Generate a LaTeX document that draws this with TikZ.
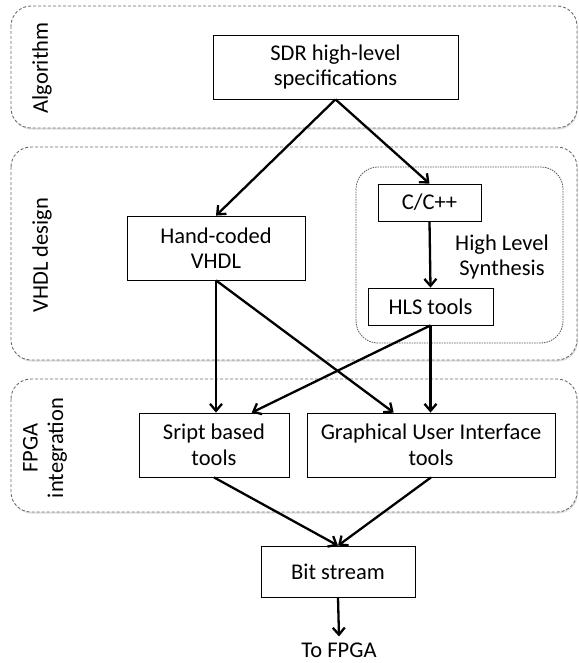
\documentclass[tikz,border=0pt]{standalone}
\usepackage{fontspec}
\setmainfont{Carlito}
\usetikzlibrary{arrows.meta,calc,shadows}
\begin{document}
\begin{tikzpicture}[x=1pt,y=-1pt,
  every node/.style={font=\fontsize{22.5}{25.5}\selectfont, inner sep=0pt, align=center},
  band/.style={draw=gray!85!black, dash pattern=on 3pt off 2pt, line width=0.9pt, rounded corners=20pt, fill=white,
    drop shadow={opacity=0.25, shadow xshift=0.8pt, shadow yshift=-1.6pt}},
  hlsband/.style={draw=gray!70!black, dash pattern=on 1.5pt off 1pt, line width=0.8pt, rounded corners=22pt},
  box/.style={draw, line width=0.8pt, rectangle, fill=white},
  arr/.style={line width=2.3pt, -{Straight Barb[length=7pt,width=12pt]}}
]
\useasboundingbox (0,0) rectangle (578,663);
% bands
\draw[band] (11,6) rectangle (577,128);
\draw[band] (11,147) rectangle (577,360);
\draw[band] (11,379) rectangle (577,512);
\draw[hlsband] (356,167) rectangle (563,343);
% band labels
\node[rotate=90] (lalg) at (42,68) {Algorithm};
\node[rotate=90] (lvhdl) at (42,255) {VHDL design};
\node[rotate=90] (lfpga) at (45,448) {FPGA\\integration};
\node (lhls) at (502,257) {High Level\\Synthesis};
% boxes
\node[box, minimum width=245pt, minimum height=64pt] (sdr) at (335.5,67) {SDR high-level\\specifications};
\node[box, minimum width=178pt, minimum height=64pt] (hand) at (216,248) {Hand-coded\\VHDL};
\node[box, minimum width=103pt, minimum height=37pt] (cpp) at (429.5,202.5) {C/C++};
\node[box, minimum width=125pt, minimum height=37pt] (hls) at (430.5,306.5) {HLS tools};
\node[box, minimum width=150pt, minimum height=64pt] (sript) at (214,445) {Sript based\\tools};
\node[box, minimum width=248pt, minimum height=64pt] (gui) at (431,445) {Graphical User Interface\\tools};
\node[box, minimum width=154pt, minimum height=51pt] (bit) at (338,571.5) {Bit stream};
\node (tofpga) at (339,650) {To FPGA};
% arrows
\draw[arr] (sdr.south) -- (hand.north);
\draw[arr] (sdr.south) -- (cpp.north);
\draw[arr] (cpp.south) -- (hls.north);
\draw[arr] (hand.south) -- (hand.south |- sript.north);
\draw[arr] (hand.south) -- ($(gui.north west)!0.35!(gui.north east)$);
\draw[arr] (hls.south) -- ($(sript.north)!0.5!(sript.north east)$);
\draw[arr] (hls.south) -- (hls.south |- gui.north);
\draw[arr] (sript.south) -- (bit.north);
\draw[arr] (gui.south) -- (bit.north);
\draw[arr] (bit.south) -- ([yshift=6pt]tofpga.north);
\end{tikzpicture}
\end{document}
